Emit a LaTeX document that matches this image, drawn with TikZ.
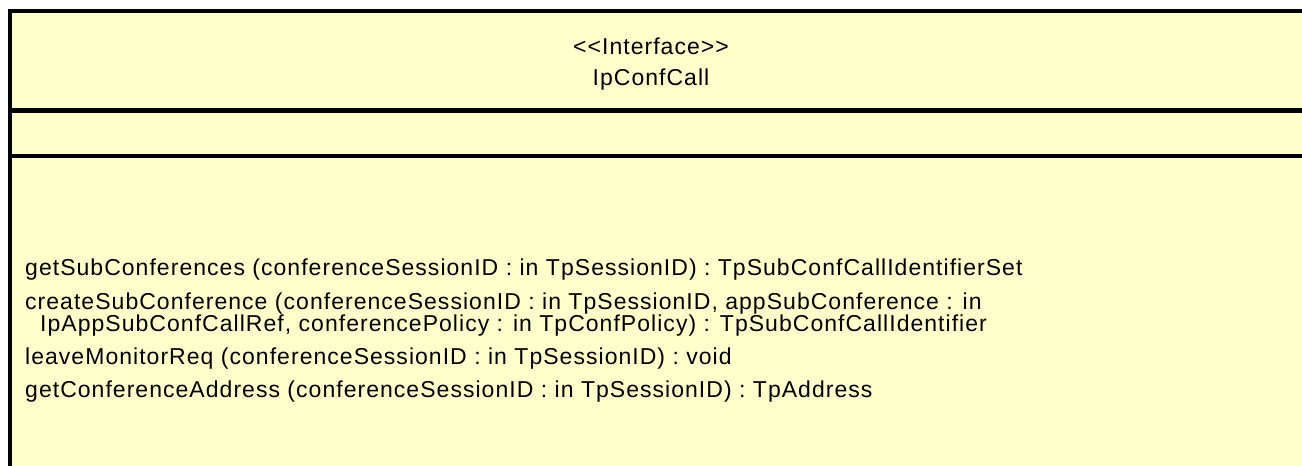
\documentclass[tikz,border=0pt]{standalone}
\usepackage{fontspec}
\setmainfont{Liberation Sans}[LetterSpace=4.5]
\definecolor{umlfill}{HTML}{FFFFCC}
\begin{document}
\begin{tikzpicture}[x=1pt,y=-1pt,
  rule/.style={line width=4.3pt,black},
  txt/.style={inner sep=0pt,font=\fontsize{23}{27}\selectfont},
  op/.style={txt,anchor=base west,text height=16pt,text depth=3pt}]
\useasboundingbox (0,0) rectangle (1302,466);
\fill[umlfill] (10,11) rectangle (1310,470);
\draw[rule] (10,9) -- (10,470);
\draw[rule] (8,11) -- (1310,11);
\draw[rule] (8,110.5) -- (1310,110.5);
\draw[rule] (8,156) -- (1310,156);
\node[txt,anchor=base] (stereo) at (651,54) {{<}{<}Interface{>}{>}};
\node[txt,anchor=base] (name) at (651,85) {IpConfCall};
\node[op] (op1) at (25,275) {getSubConferences (conferenceSessionID : in TpSessionID) : TpSubConfCallIdentifierSet};
\node[op] (op2) at (25,309) {createSubConference (conferenceSessionID : in TpSessionID, appSubConference : in};
\node[op] (op2b) at (40,331) {IpAppSubConfCallRef, conferencePolicy : in TpConfPolicy) : TpSubConfCallIdentifier};
\node[op] (op3) at (25,364) {leaveMonitorReq (conferenceSessionID : in TpSessionID) : void};
\node[op] (op4) at (25,397) {getConferenceAddress (conferenceSessionID : in TpSessionID) : TpAddress};
\end{tikzpicture}
\end{document}
